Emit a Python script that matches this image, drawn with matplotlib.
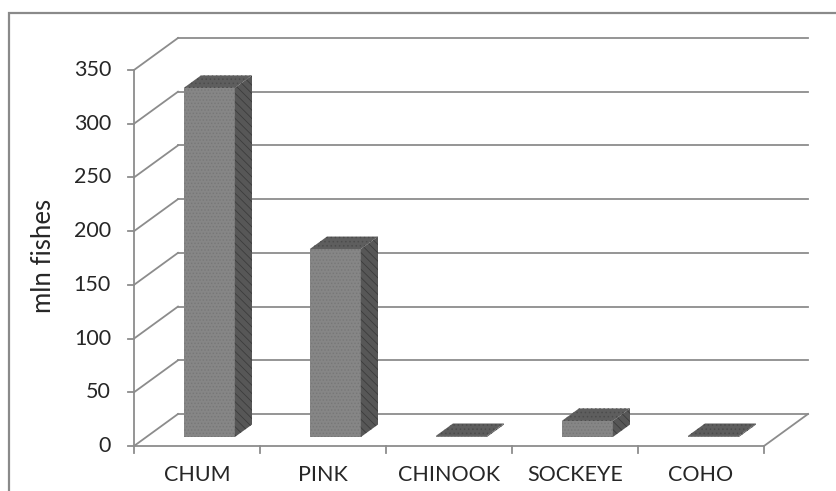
import matplotlib
matplotlib.use("Agg")
import matplotlib.pyplot as plt
from matplotlib.patches import Polygon, Rectangle

# ---- data ----
categories = ["CHUM", "PINK", "CHINOOK", "SOCKEYE", "COHO"]
values = [325, 175, 1, 15, 1]
yticks = [0, 50, 100, 150, 200, 250, 300, 350]
ylabel = "mln fishes"

# ---- geometry (pixels) ----
W, H = 836, 491
x0_px, y0_px = 134, 446          # front origin
px_per_cat = 126
px_per_unit = (446 - 70) / 350.0
dx_px, dy_px = 44, 32            # depth offset of the back wall

plt.rcParams['font.family'] = ['Lato', 'DejaVu Sans']
plt.rcParams['hatch.linewidth'] = 0.6

fig = plt.figure(figsize=(W / 100, H / 100), dpi=100)
ax = fig.add_axes([0, 0, 1, 1])
ax.set_xlim(-x0_px / px_per_cat, (W - x0_px) / px_per_cat)
ax.set_ylim((y0_px - H) / px_per_unit, y0_px / px_per_unit)
ax.axis('off')

Dx = dx_px / px_per_cat
Dy = dy_px / px_per_unit
n = len(categories)
grid_c = '#8c8c8c'
lw = 1.3

# outer frame
fig.patches.append(Rectangle((9 / W, -0.1), 1.2, 1 - 13 / H + 0.1,
                             transform=fig.transFigure, fill=False,
                             edgecolor='#8a8a8a', linewidth=1.6))

# back wall gridlines and left-wall diagonals
for v in yticks:
    ax.plot([Dx, n + Dx], [v + Dy, v + Dy], color=grid_c, lw=lw, zorder=1)
    ax.plot([0, Dx], [v, v + Dy], color=grid_c, lw=lw, zorder=1)
    ax.plot([-6 / px_per_cat, 0], [v, v], color=grid_c, lw=lw, zorder=1)
    ax.text(-23 / px_per_cat, v, str(v), ha='right', va='center',
            fontsize=15.5, color='#262626')

# front y axis
ax.plot([0, 0], [0, yticks[-1]], color=grid_c, lw=lw, zorder=1)
# floor
ax.plot([0, n], [0, 0], color=grid_c, lw=lw, zorder=1)
ax.plot([n, n + Dx], [0, Dy], color=grid_c, lw=lw, zorder=1)
for i in range(n + 1):
    ax.plot([i, i], [0, -7 / px_per_unit], color=grid_c, lw=lw, zorder=1)

# bars
f_front, f_depth = 0.28, 0.39
bw = 0.405
for i, (cat, v) in enumerate(zip(categories, values)):
    xl = i + 0.5 - bw / 2 + f_front * Dx
    xr = xl + bw
    b = f_front * Dy
    t = b + v
    ddx, ddy = f_depth * Dx, f_depth * Dy
    ax.add_patch(Rectangle((xl, b), bw, v, facecolor='#868686',
                           edgecolor='#777777', hatch='.....', lw=0, zorder=3))
    ax.add_patch(Polygon([(xr, b), (xr + ddx, b + ddy), (xr + ddx, t + ddy), (xr, t)],
                         closed=True, facecolor='#575757', edgecolor='#3c3c3c',
                         hatch='\\\\\\\\', lw=0, zorder=3))
    ax.add_patch(Polygon([(xl, t), (xr, t), (xr + ddx, t + ddy), (xl + ddx, t + ddy)],
                         closed=True, facecolor='#5e5e5e', edgecolor='#4c4c4c',
                         hatch='....', lw=0, zorder=4))
    ax.text(i + 0.5, -19 / px_per_unit, cat, ha='center', va='top',
            fontsize=15.5, color='#262626')

# y label
ax.text(-90 / px_per_cat, (y0_px - 256) / px_per_unit, ylabel, rotation=90,
        ha='center', va='center', fontsize=18.5, color='#262626')

fig.savefig('out.png', dpi=100)
